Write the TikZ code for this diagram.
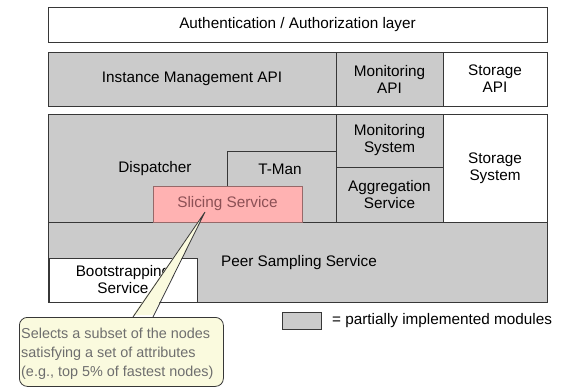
\documentclass[tikz,border=0pt]{standalone}
\usepackage{fontspec}
\setmainfont{Liberation Sans}
\definecolor{modgray}{RGB}{203,203,203}
\definecolor{edge}{RGB}{55,55,55}
\definecolor{slicefill}{RGB}{255,178,178}
\definecolor{sliceedge}{RGB}{150,105,105}
\definecolor{slicetext}{RGB}{140,80,85}
\definecolor{notefill}{RGB}{250,250,222}
\definecolor{notetext}{RGB}{110,110,110}
\begin{document}
\begin{tikzpicture}[x=1pt,y=-1pt,
  box/.style={draw=edge, line width=0.8pt, inner sep=0pt, outer sep=0pt,
    anchor=north west, align=center, font=\fontsize{15.3}{17}\selectfont},
  part/.style={box, fill=modgray},
  full/.style={box, fill=white},
  lbl/.style={inner sep=0pt, font=\fontsize{15.3}{17}\selectfont},
  sz/.style 2 args={minimum width=#1pt, minimum height=#2pt},
]
\useasboundingbox (0,0) rectangle (572,387);

% top layers
\node[full, sz={499}{35}] (auth) at (48,7) {Authentication / Authorization layer};
\node[part, sz={288}{54}] (imapi) at (48,52) {Instance Management API};
\node[part, sz={107}{54}] (monapi) at (336,52) {Monitoring\\API};
\node[full, sz={104}{54}] (stapi) at (443,52) {Storage\\API};

% core services
\node[part, sz={499}{108}] (disp) at (48,114) {};
\node[lbl] at (155,169) {Dispatcher};
\node[part, sz={109}{71}] (tman) at (227,151) {};
\node[lbl] at (280,169) {T-Man};
\node[part, sz={107}{53}] (monsys) at (336,114) {Monitoring\\System};
\node[part, sz={107}{55}] (aggr) at (336,167) {Aggregation\\Service};
\node[full, sz={104}{108}] (stsys) at (443,114) {Storage\\System};
\node[part, sz={499}{80}] (peer) at (48,222) {};
\node[lbl] at (299,263) {Peer Sampling Service};
\node[full, sz={148}{44}] (boot) at (49,258) {Bootstrapping\\Service};
\node[box, draw=sliceedge, fill=slicefill, text=slicetext, sz={149}{36}] (slice) at (153,186) {Slicing Service};

% legend
\node[part, sz={39}{17}] (legend) at (282,312) {};
\node[lbl, anchor=west] at (332,321) {= partially implemented modules};

% callout note
\node[draw=edge, line width=0.8pt, fill=notefill, rounded corners=8pt,
      anchor=north west, sz={204}{69}] (note) at (19,317) {};
\node[lbl, anchor=west, align=left, text=notetext,
      font=\fontsize{14.4}{19}\selectfont] at (21,354)
  {Selects a subset of the nodes\\satisfying a set of attributes\\(e.g., top 5\% of fastest nodes)};
\coordinate (tip) at (205,212);
\coordinate (wl) at (133,317);
\coordinate (wr) at (153,317);
\fill[notefill] ([yshift=2pt]wl) -- (tip) -- ([yshift=2pt]wr) -- cycle;
\draw[edge, line width=0.8pt] (wl) -- (tip) -- (wr);
\end{tikzpicture}
\end{document}
